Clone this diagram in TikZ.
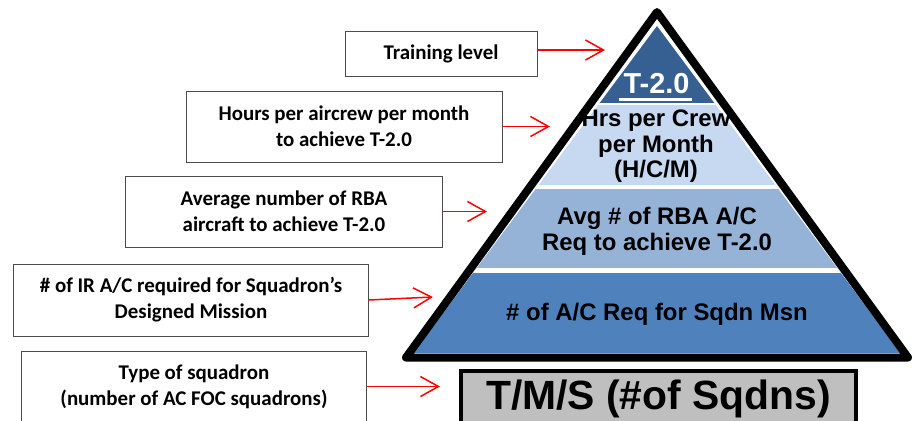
\documentclass[tikz,border=0pt]{standalone}
\usepackage{fontspec}
\setmainfont{Carlito}
\newfontfamily\arialf{Liberation Sans}
\usetikzlibrary{arrows.meta}
\definecolor{layA}{HTML}{376092}
\definecolor{layB}{HTML}{C6D9F1}
\definecolor{layC}{HTML}{95B3D7}
\definecolor{layD}{HTML}{4F81BD}
\definecolor{tmsgray}{HTML}{BFBFBF}
\begin{document}
\begin{tikzpicture}[x=1bp,y=-1bp,
  lbox/.style={draw=black!70, line width=1bp, fill=white, inner sep=0pt, align=center,
    font=\fontsize{21}{26}\selectfont\bfseries},
  redarrow/.style={draw=red, line width=1.5bp,
    -{Straight Barb[length=18bp,width=20bp,line width=1.5bp]}},
  ptext/.style={font=\arialf\bfseries\fontsize{24}{26}\selectfont, anchor=base, inner sep=0pt},
  sepline/.style={white, line width=3.5bp}
]
\useasboundingbox (0,0) rectangle (917,420);
\clip (0,0) rectangle (917,420);

% pyramid layers
\coordinate (apex) at (657,26);
\coordinate (bl) at (413.5,353);
\coordinate (br) at (900.5,353);
\begin{scope}
  \clip (apex) -- (bl) -- (br) -- cycle;
  \fill[layA] (400,0) rectangle (917,104);
  \fill[layB] (400,104) rectangle (917,187);
  \fill[layC] (400,187) rectangle (917,270.5);
  \fill[layD] (400,270.5) rectangle (917,360);
  \draw[sepline, line width=2.5bp] (400,104) -- (917,104);
  \draw[sepline] (400,187) -- (917,187);
  \draw[sepline, line width=4.5bp] (400,270.5) -- (917,270.5);
\end{scope}
\draw[black, line width=8bp, line join=round] (657,12) -- (406,357.5) -- (908,357.5) -- cycle;

% pyramid texts
\node[ptext, text=white, font=\arialf\bfseries\fontsize{29}{30}\selectfont] (t20) at (656.5,93) {T-2.0};
\draw[white, line width=2.5bp] (619,99.5) -- (692,99.5);
\node[ptext] (hrs1) at (656,126.7) {Hrs per Crew};
\node[ptext] (hrs2) at (656,152.7) {per Month};
\node[ptext] (hrs3) at (656,177) {(H/C/M)};
\node[ptext] (avg1) at (657,224.3) {Avg \# of RBA A/C};
\node[ptext] (avg2) at (657,250) {Req to achieve T-2.0};
\node[ptext] (msn) at (657,320.7) {\# of A/C Req for Sqdn Msn};

% T/M/S box
\node[draw=black, line width=3.5bp, fill=tmsgray, anchor=north, minimum width=395bp,
  inner xsep=0pt, inner ysep=0pt, text height=38.3bp, text depth=30bp,
  font=\arialf\bfseries\fontsize{41}{42}\selectfont] (tms) at (658.5,369) {T/M/S (\#of Sqdns)};

% left boxes
\node[lbox, minimum width=192bp, minimum height=45bp] (b1) at (441,53.5) {Training level};
\node[lbox, minimum width=316bp, minimum height=71bp] (b2) at (344,126.5) {Hours per aircrew per month\\to achieve T-2.0};
\node[lbox, minimum width=316bp, minimum height=71bp] (b3) at (284,211.5) {Average number of RBA\\aircraft to achieve T-2.0};
\node[lbox, minimum width=354bp, minimum height=72bp] (b4) at (191,300) {\# of IR A/C required for Squadron’s\\Designed Mission};
\node[lbox, minimum width=344bp, minimum height=71bp] (b5) at (194,386.5) {Type of squadron\\(number of AC FOC squadrons)};

% arrow tips
\coordinate (t1) at (605,50);
\coordinate (t2) at (550,126.5);
\coordinate (t3) at (487,211.5);
\coordinate (t4) at (433,297);
\coordinate (t5) at (440,386.5);
\draw[redarrow] (b1.east |- t1) -- (t1);
\draw[redarrow] (b2.east) -- (t2);
\draw[redarrow] (b3.east) -- (t3);
\draw[redarrow] (b4.east) -- (t4);
\draw[redarrow] (b5.east) -- (t5);
\end{tikzpicture}
\end{document}
